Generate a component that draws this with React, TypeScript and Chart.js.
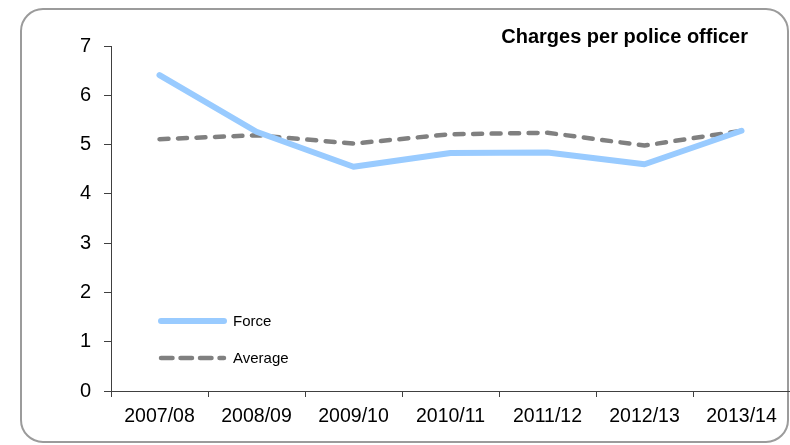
import React, { useEffect, useRef } from "react";
import { Chart, registerables } from "chart.js";

Chart.register(...registerables);

const categories = ["2007/08", "2008/09", "2009/10", "2010/11", "2011/12", "2012/13", "2013/14"];
const forceValues = [6.41, 5.26, 4.55, 4.83, 4.84, 4.6, 5.28];
const averageValues = [5.11, 5.19, 5.02, 5.21, 5.24, 4.98, 5.28];
const yTicks = [0, 1, 2, 3, 4, 5, 6, 7];
const titleText = "Charges per police officer";
const seriesNames = ["Force", "Average"];

const FONT = "'Liberation Sans', Arial, Helvetica, sans-serif";

const framePlugin = {
  id: "frame",
  beforeDraw(chart: any) {
    const ctx = chart.ctx;
    const x = 21, y = 9, w = 767, h = 433, r = 22;
    ctx.save();
    ctx.strokeStyle = "#9b9b9b";
    ctx.lineWidth = 2;
    ctx.beginPath();
    ctx.moveTo(x + r, y);
    ctx.lineTo(x + w - r, y);
    ctx.arcTo(x + w, y, x + w, y + r, r);
    ctx.lineTo(x + w, y + h - r);
    ctx.arcTo(x + w, y + h, x + w - r, y + h, r);
    ctx.lineTo(x + r, y + h);
    ctx.arcTo(x, y + h, x, y + h - r, r);
    ctx.lineTo(x, y + r);
    ctx.arcTo(x, y, x + r, y, r);
    ctx.closePath();
    ctx.stroke();
    ctx.restore();
  },
  afterDraw(chart: any) {
    const ctx = chart.ctx;
    ctx.save();
    // title
    ctx.fillStyle = "#000";
    ctx.font = `bold 20px ${FONT}`;
    ctx.textAlign = "right";
    ctx.textBaseline = "alphabetic";
    ctx.fillText(titleText, 748, 43);
    // legend
    const ds = chart.data.datasets;
    const rows = [321, 358];
    ds.forEach((d: any, i: number) => {
      const yy = rows[i];
      ctx.beginPath();
      ctx.strokeStyle = d.borderColor;
      ctx.lineWidth = d.borderWidth;
      ctx.lineCap = "round";
      ctx.setLineDash(i === 1 ? [11.5, 8] : []);
      ctx.moveTo(161, yy);
      ctx.lineTo(224, yy);
      ctx.stroke();
      ctx.setLineDash([]);
      ctx.fillStyle = "#000";
      ctx.font = `15px ${FONT}`;
      ctx.textAlign = "left";
      ctx.textBaseline = "middle";
      ctx.fillText(d.label, 233, yy + 1);
    });
    ctx.restore();
  },
};

export default function App() {
  const ref = useRef<HTMLCanvasElement | null>(null);
  useEffect(() => {
    if (!ref.current) return;
    const chart = new Chart(ref.current, {
      type: "line",
      data: {
        labels: categories,
        datasets: [
          {
            label: seriesNames[0],
            data: forceValues,
            borderColor: "#99cbff",
            backgroundColor: "#99cbff",
            borderWidth: 6,
            pointRadius: 0,
            borderCapStyle: "round",
            borderJoinStyle: "round",
            tension: 0,
          },
          {
            label: seriesNames[1],
            data: averageValues,
            borderColor: "#808080",
            backgroundColor: "#808080",
            borderWidth: 4.5,
            borderDash: [9, 9.5],
            pointRadius: 0,
            borderCapStyle: "round",
            borderJoinStyle: "round",
            tension: 0,
          },
        ],
      },
      options: {
        responsive: false,
        animation: false,
        events: [],
        layout: { padding: { top: 46, left: 0, right: 0, bottom: 0 } },
        plugins: {
          legend: { display: false },
          title: { display: false },
          tooltip: { enabled: false },
        },
        scales: {
          x: {
            offset: true,
            grid: {
              offset: true,
              drawOnChartArea: false,
              drawTicks: true,
              tickLength: 6,
              color: "#404040",
            },
            border: { display: true, color: "#404040", width: 1 },
            ticks: {
              color: "#000",
              font: { family: FONT, size: 19.5 },
              padding: 8,
              maxRotation: 0,
              autoSkip: false,
            },
            afterFit(scale: any) {
              scale.height = 54;
            },
          },
          y: {
            min: 0,
            max: 7,
            afterBuildTicks(scale: any) {
              scale.ticks = yTicks.map((v) => ({ value: v }));
            },
            grid: {
              drawOnChartArea: false,
              drawTicks: true,
              tickLength: 7,
              color: "#404040",
            },
            border: { display: true, color: "#404040", width: 1 },
            ticks: {
              color: "#000",
              font: { family: FONT, size: 20 },
              padding: 13,
            },
            afterFit(scale: any) {
              scale.width = 111;
            },
          },
        },
      },
      plugins: [framePlugin],
    } as any);
    return () => chart.destroy();
  }, []);
  return (
    <div style={{ position: "fixed", left: 0, top: 0, width: 790, height: 445, background: "#fff" }}>
      <canvas ref={ref} width={790} height={445} style={{ display: "block", width: 790, height: 445 }} />
    </div>
  );
}
